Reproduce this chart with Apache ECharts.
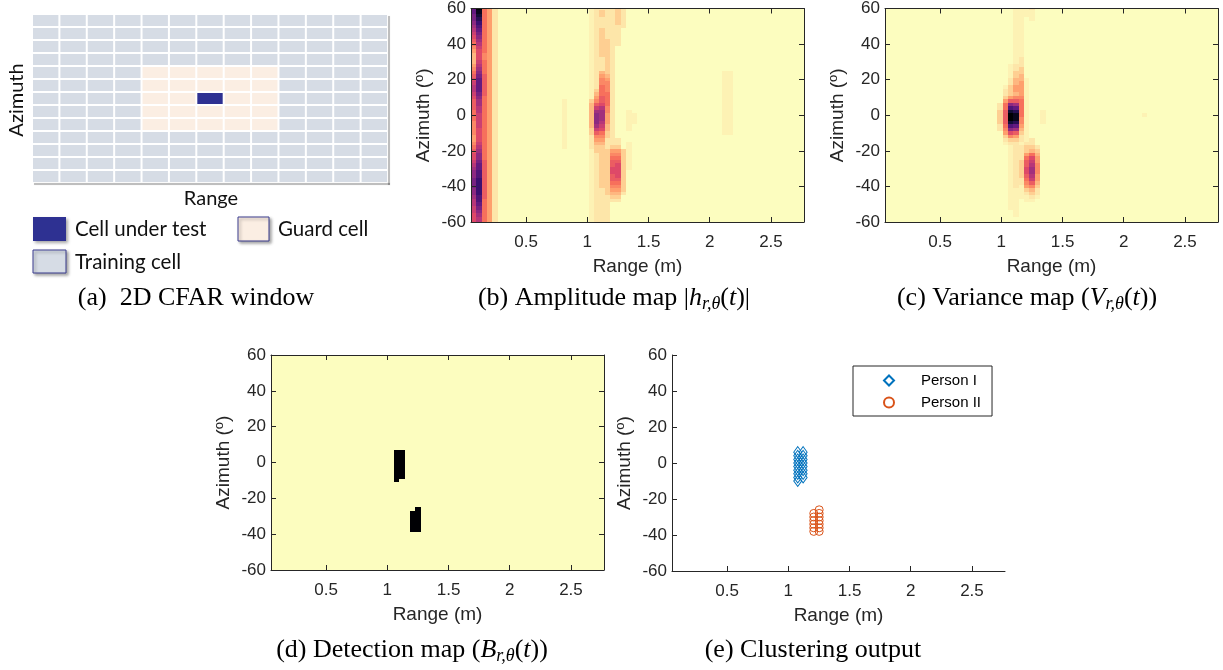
<!DOCTYPE html>
<html>
<head>
<meta charset="utf-8">
<script src="https://cdn.jsdelivr.net/npm/echarts@6.0.0/dist/echarts.min.js"></script>
<style>
  html, body { margin: 0; padding: 0; background: #fff; }
  #chart { width: 1223px; height: 670px; }
</style>
</head>
<body>
<div id="chart"></div>
<script>
// ---------------------------------------------------------------------------
// Axes
// ---------------------------------------------------------------------------
const rangeMin = 0.05;
const rangeMax = 2.77;
const rangeTicks = [0.5, 1, 1.5, 2, 2.5];
const azMin = -60;
const azMax = 60;
const azTickStep = 20;

// Radar map bins: range bins start at 0.05 m, azimuth rows are centred on 60, 58, ... -60 deg
const rangeStart = 0.05;
const rangeStep = 0.0437;
const rangeBins = 63;
const azFirst = 60;
const azStep = 2;

// Intensity levels per cell: '0'..'9','A'..'K' = 0..20, 'h' = 0.5 (faint).
// One string per azimuth row (60 -> -60); '|' only separates groups of bins:
// bins 0-5 | 6-15 | 16-21 | 22-28 | 29-32 | 33-48. Missing bins are 0.
const amplitudeRows = [
  'EK6410|0000000000|000000|h111121|0000',                    // 60
  'EJ6410|0000000000|000000|h121121|0000',                    // 58
  'DI6410|0000000000|000000|h121121|0000',                    // 56
  'DH6410|0000000000|000000|h111121|0000',                    // 54
  'CG6410|0000000000|000000|h111121|0000',                    // 52
  'BF6410|0000000000|000000|h111111|0000',                    // 50
  'AE6410|0000000000|000000|h121110|0000',                    // 48
  '9D6410|0000000000|000000|h121110|0000',                    // 46
  '8C6410|0000000000|000000|h121110|0000',                    // 44
  '7B6410|0000000000|000000|h122110|0000',                    // 42
  '6A6410|0000000000|000000|h122110|0000',                    // 40
  '596410|0000000000|000000|h122100|0000',                    // 38
  '486410|0000000000|000000|h122100|0000',                    // 36
  '385410|0000000000|000000|h122100|0000',                    // 34
  '385410|0000000000|000000|h112100|0000',                    // 32
  '396410|0000000000|000000|h112100|0000',                    // 30
  '4A6410|0000000000|000000|h112100|0000',                    // 28
  '5B6410|0000000000|000000|h112100|0000',                    // 26
  '6C6410|0000000000|000000|h132100|0000|00000000000000hh',   // 24
  '7D7410|0000000000|000000|h143100|0000|00000000000000hh',   // 22
  '8E7410|0000000000|000000|h154100|0000|00000000000000hh',   // 20
  '9E7410|0000000000|000000|h155100|0000|00000000000000hh',   // 18
  'AE7410|0000000000|000000|h165100|0000|00000000000000hh',   // 16
  'AE7410|0000000000|000000|h265100|0000|00000000000000hh',   // 14
  '9D7410|0000000000|000000|h366100|0000|00000000000000hh',   // 12
  '8C6410|0000000000|000000|h476100|0000|00000000000000hh',   // 10
  '7B6410|0000000000|0h0000|2576100|0000|00000000000000hh',   // 8
  '7B6410|0000000000|0h0000|3786100|0000|00000000000000hh',   // 6
  '7A6410|0000000000|0h0000|39A5100|0000|00000000000000hh',   // 4
  '6A6410|0000000000|0h0000|3BB5100|h000|00000000000000hh',   // 2
  '696410|0000000000|0h0000|3CB4100|hh00|00000000000000hh',   // 0
  '696410|0000000000|0h0000|3CB4100|hh00|00000000000000hh',   // -2
  '596410|0000000000|0h0000|3CA4100|hh00|00000000000000hh',   // -4
  '596410|0000000000|0h0000|3B93100|h000|00000000000000hh',   // -6
  '586410|0000000000|0h0000|2983100|h000|00000000000000hh',   // -8
  '586410|0000000000|0h0000|2762100|0000|00000000000000hh',   // -10
  '486410|0000000000|0h0000|1552100|0000',                    // -12
  '486410|0000000000|0h0000|1441110|0000',                    // -14
  '596410|0000000000|0h0000|1331110|h000',                    // -16
  '6A6410|0000000000|0h0000|1221220|h000',                    // -18
  '7B6410|0000000000|000000|h222442|h000',                    // -20
  '8C6410|0000000000|000000|h122552|h000',                    // -22
  '8C6410|0000000000|000000|h122662|h000',                    // -24
  '9D7410|0000000000|000000|h122772|h000',                    // -26
  'AE7410|0000000000|000000|h122782|h000',                    // -28
  'BE7410|0000000000|000000|h122882|h000',                    // -30
  'CF7410|0000000000|000000|h122882|0000',                    // -32
  'CF7410|0000000000|000000|h122782|0000',                    // -34
  'DG7410|0000000000|000000|h122772|0000',                    // -36
  'DG7410|0000000000|000000|h122662|0000',                    // -38
  'DG7410|0000000000|000000|h122552|0000',                    // -40
  'CG7410|0000000000|000000|h112442|0000',                    // -42
  'CG7410|0000000000|000000|h112331|0000',                    // -44
  'BF7410|0000000000|000000|h111220|0000',                    // -46
  'AF6410|0000000000|000000|h111110|0000',                    // -48
  'AE6410|0000000000|000000|h111000|0000',                    // -50
  '9D6410|0000000000|000000|h111000|0000',                    // -52
  '9C6410|0000000000|000000|h111000|0000',                    // -54
  '8B6410|0000000000|000000|h111000|0000',                    // -56
  '8A6410|0000000000|000000|h111000|0000',                    // -58
  '8A6410|0000000000|000000|h111000|0000'                     // -60
];

const varianceRows = [
  '000000|0000000000|000000|00hhh10|0000',                    // 60
  '000000|0000000000|000000|00hhhh0|0000',                    // 58
  '000000|0000000000|000000|00hhhh0|0000',                    // 56
  '000000|0000000000|000000|00hh0h0|0000',                    // 54
  '000000|0000000000|000000|00hh000|0000',                    // 52
  '000000|0000000000|000000|00hh000|0000',                    // 50
  '000000|0000000000|000000|00hh000|0000',                    // 48
  '000000|0000000000|000000|00hh000|0000',                    // 46
  '000000|0000000000|000000|00hh000|0000',                    // 44
  '000000|0000000000|000000|00hh000|0000',                    // 42
  '000000|0000000000|000000|00hh000|0000',                    // 40
  '000000|0000000000|000000|00hh000|0000',                    // 38
  '000000|0000000000|000000|00hh000|0000',                    // 36
  '000000|0000000000|000000|00hh000|0000',                    // 34
  '000000|0000000000|000000|00h1000|0000',                    // 32
  '000000|0000000000|000000|00h1000|0000',                    // 30
  '000000|0000000000|000000|0h11000|0000',                    // 28
  '000000|0000000000|000000|0h12000|0000',                    // 26
  '000000|0000000000|000000|0h22000|0000',                    // 24
  '000000|0000000000|000000|0h23000|0000',                    // 22
  '000000|0000000000|000000|0133h00|0000',                    // 20
  '000000|0000000000|000000|0134h00|0000',                    // 18
  '000000|0000000000|000000|h244h00|0000',                    // 16
  '000000|0000000000|000000|1244h00|0000',                    // 14
  '000000|0000000000|000000|1234h00|0000',                    // 12
  '000000|0000000000|000000|2455h00|0000',                    // 10
  '000000|0000000000|000000|4776h00|0000',                    // 8
  '000000|0000000000|000001|6CB6h00|0000',                    // 6
  '000000|0000000000|000001|6FE6h00|0000',                    // 4
  '000000|0000000000|000002|7IH6h00|h000',                    // 2
  '000000|0000000000|000002|7KJ6h00|h000|000000000000000h',   // 0
  '000000|0000000000|000002|7KJ5h00|h000',                    // -2
  '000000|0000000000|000002|7IH5h00|h000',                    // -4
  '000000|0000000000|000001|6FE4h00|0000',                    // -6
  '000000|0000000000|000001|5CB3h00|0000',                    // -8
  '000000|0000000000|000000|4872h00|0000',                    // -10
  '000000|0000000000|000000|2541h00|0000',                    // -12
  '000000|0000000000|000000|1221h10|0000',                    // -14
  '000000|0000000000|000000|h11h110|0000',                    // -16
  '000000|0000000000|000000|0h11221|0000',                    // -18
  '000000|0000000000|000000|0h11232|0000',                    // -20
  '000000|0000000000|000000|0h11463|0000',                    // -22
  '000000|0000000000|000000|0h11684|0000',                    // -24
  '000000|0000000000|000000|0h12794|0000',                    // -26
  '000000|0000000000|000000|0h127A5|0000',                    // -28
  '000000|0000000000|000000|0h128B5|0000',                    // -30
  '000000|0000000000|000000|0h128B5|0000',                    // -32
  '000000|0000000000|000000|0h127A4|0000',                    // -34
  '000000|0000000000|000000|0h11694|0000',                    // -36
  '000000|0000000000|000000|0h11573|0000',                    // -38
  '000000|0000000000|000000|0h1h452|0000',                    // -40
  '000000|0000000000|000000|0hhh231|0000',                    // -42
  '000000|0000000000|000000|0hhh121|0000',                    // -44
  '000000|0000000000|000000|0hhhh1h|0000',                    // -46
  '000000|0000000000|000000|0hh0hh0|0000',                    // -48
  '000000|0000000000|000000|0hh0000|0000',                    // -50
  '000000|0000000000|000000|0hh0000|0000',                    // -52
  '000000|0000000000|000000|00h0000|0000',                    // -54
  '000000|0000000000|000000|00h0000|0000',                    // -56
  '000000|0000000000|000000|0000000|0000',                    // -58
  '000000|0000000000|000000|0000000|0000'                     // -60
];

// Detected cells [range (m), azimuth (deg)], grouped by cluster
const clusterNames = ['Person I', 'Person II'];
const personI = [
  [1.077, 6], [1.077, 4], [1.077, 2], [1.077, 0], [1.077, -2], [1.077, -4], [1.077, -6], [1.077, -8], [1.077, -10],
  [1.121, 6], [1.121, 4], [1.121, 2], [1.121, 0], [1.121, -2], [1.121, -4], [1.121, -6], [1.121, -8]
];
const personII = [
  [1.208, -28], [1.208, -30], [1.208, -32], [1.208, -34], [1.208, -36], [1.208, -38],
  [1.252, -26], [1.252, -28], [1.252, -30], [1.252, -32], [1.252, -34], [1.252, -36], [1.252, -38]
];

// 2D CFAR window: T = training cell, G = guard cell, C = cell under test
const cfarRows = [
  'TTTTTTTTTTTTT',
  'TTTTTTTTTTTTT',
  'TTTTTTTTTTTTT',
  'TTTTTTTTTTTTT',
  'TTTTGGGGGTTTT',
  'TTTTGGGGGTTTT',
  'TTTTGGCGGTTTT',
  'TTTTGGGGGTTTT',
  'TTTTGGGGGTTTT',
  'TTTTTTTTTTTTT',
  'TTTTTTTTTTTTT',
  'TTTTTTTTTTTTT',
  'TTTTTTTTTTTTT'
];
const cfarLegendLabels = ['Cell under test', 'Guard cell', 'Training cell'];
const cfarAxisLabels = ['Azimuth', 'Range'];

const rangeTitle = 'Range (m)';
const azimuthTitle = '{n|Azimuth (}{s|o}{n|)}';
const captionTexts = [
  '{n|(a)  2D CFAR window}',
  '{n|(b) Amplitude map |}{i|h}{s|r,θ}{n|(}{i|t}{n|)|}',
  '{n|(c) Variance map (}{i|V}{s|r,θ}{n|(}{i|t}{n|))}',
  '{n|(d) Detection map (}{i|B}{s|r,θ}{n|(}{i|t}{n|))}',
  '{n|(e) Clustering output}'
];

// ---------------------------------------------------------------------------
// Styling
// ---------------------------------------------------------------------------
const SANS = '"Liberation Sans", Arial, sans-serif';
const SERIF = '"Liberation Serif", "Times New Roman", serif';
const CALIBRI_LIKE = 'Lato, "Open Sans", sans-serif';
const AXIS_COLOR = '#262626';
const MAGMA = ['#fcfdbf', '#fecf92', '#fe9f6d', '#f7705c', '#de4968', '#b73779',
               '#8c2981', '#641a80', '#3b0f70', '#140e36', '#000004'];
const CFAR_COLORS = { T: '#d6dce5', G: '#fbeee3', C: '#2e3192' };
const PERSON_COLORS = ['#0072bd', '#d95319'];

// ---------------------------------------------------------------------------
// Data preparation
// ---------------------------------------------------------------------------
const LEVEL_CHARS = '0123456789ABCDEFGHIJK';
function decodeLevel(ch) {
  return ch === 'h' ? 0.5 : LEVEL_CHARS.indexOf(ch);
}
function binCentre(c) {
  return +(rangeStart + (c + 0.5) * rangeStep).toFixed(4);
}
function mapCells(rows) {
  const cells = [];
  rows.forEach(function (row, r) {
    const s = row.replace(/[\s|]/g, '');
    const az = azFirst - r * azStep;
    for (let c = 0; c < rangeBins; c++) {
      cells.push([binCentre(c), az, c < s.length ? decodeLevel(s[c]) : 0]);
    }
  });
  return cells;
}
function detectionCells() {
  const hits = personI.concat(personII);
  const cells = [];
  for (let r = 0; r < amplitudeRows.length; r++) {
    const az = azFirst - r * azStep;
    for (let c = 0; c < rangeBins; c++) {
      const x = binCentre(c);
      const on = hits.some(function (p) {
        return Math.abs(p[0] - x) < rangeStep / 2 && p[1] === az;
      });
      cells.push([x, az, on ? 20 : 0]);
    }
  }
  return cells;
}
function cfarCells() {
  const cells = [];
  cfarRows.forEach(function (row, r) {
    for (let c = 0; c < row.length; c++) cells.push([c, r, row[c]]);
  });
  return cells;
}

// ---------------------------------------------------------------------------
// Renderers
// ---------------------------------------------------------------------------
function clipToGrid(x0, y0, x1, y1, cs) {
  const l = Math.max(x0, cs.x), r = Math.min(x1, cs.x + cs.width);
  const t = Math.max(y0, cs.y), b = Math.min(y1, cs.y + cs.height);
  if (r <= l || b <= t) return null;
  return { x: l, y: t, width: r - l, height: b - t };
}
function renderMapCell(params, api) {
  const x = api.value(0), y = api.value(1);
  const a = api.coord([x - rangeStep / 2, y + azStep / 2]);
  const b = api.coord([x + rangeStep / 2, y - azStep / 2]);
  const shape = clipToGrid(Math.round(a[0]), Math.round(a[1]), Math.round(b[0]), Math.round(b[1]), params.coordSys);
  if (!shape) return null;
  return { type: 'rect', shape: shape, style: { fill: api.visual('color') } };
}
function renderCfarCell(params, api) {
  const c = api.value(0), r = api.value(1);
  const kind = cfarRows[r][c];
  const a = api.coord([c, r]);
  const b = api.coord([c + 1, r + 1]);
  return {
    type: 'rect',
    shape: { x: a[0] + 1, y: a[1] + 1, width: b[0] - a[0] - 2, height: b[1] - a[1] - 2 },
    style: { fill: CFAR_COLORS[kind] }
  };
}

// ---------------------------------------------------------------------------
// Axis builders (MATLAB-like: inward ticks, dark box)
// ---------------------------------------------------------------------------
const lineStyle = { color: AXIS_COLOR, width: 1 };
const nameStyle = {
  color: AXIS_COLOR, fontSize: 19, fontFamily: SANS,
  rich: {
    n: { color: AXIS_COLOR, fontSize: 19, fontFamily: SANS, lineHeight: 21 },
    s: { color: AXIS_COLOR, fontSize: 13, fontFamily: SANS, lineHeight: 11, verticalAlign: 'top' }
  }
};
function rangeAxis(gridIndex, position, main) {
  return {
    type: 'value', gridIndex: gridIndex, position: position, z: 5,
    min: rangeMin, max: rangeMax,
    name: main ? rangeTitle : '', nameLocation: 'middle', nameGap: 35, nameTextStyle: nameStyle,
    axisLine: { show: true, onZero: false, lineStyle: lineStyle },
    axisTick: { show: true, inside: true, length: 5, customValues: rangeTicks, lineStyle: lineStyle },
    axisLabel: { show: main, customValues: rangeTicks, margin: 12, color: AXIS_COLOR, fontSize: 17, fontFamily: SANS },
    splitLine: { show: false }
  };
}
function azimuthAxis(gridIndex, position, main) {
  return {
    type: 'value', gridIndex: gridIndex, position: position, z: 5,
    min: azMin, max: azMax, interval: azTickStep,
    name: main ? azimuthTitle : '', nameLocation: 'middle', nameGap: 37, nameTextStyle: nameStyle,
    axisLine: { show: true, onZero: false, lineStyle: lineStyle },
    axisTick: { show: true, inside: true, length: 5, lineStyle: lineStyle },
    axisLabel: { show: main, margin: 5, color: AXIS_COLOR, fontSize: 17, fontFamily: SANS },
    splitLine: { show: false }
  };
}

// ---------------------------------------------------------------------------
// Annotation graphics for the CFAR sketch and the captions
// ---------------------------------------------------------------------------
const captionRich = {
  n: { fill: '#000', fontFamily: SERIF, fontSize: 26, lineHeight: 30 },
  i: { fill: '#000', fontFamily: SERIF, fontSize: 26, fontStyle: 'italic', lineHeight: 30 },
  s: { fill: '#000', fontFamily: SERIF, fontSize: 18, fontStyle: 'italic', lineHeight: 16, verticalAlign: 'bottom' }
};
const captionAnchors = [[196, 298], [614, 298], [1027, 298], [412, 650], [813, 650]];
const shadow = { shadowBlur: 3, shadowOffsetX: 2, shadowOffsetY: 2, shadowColor: 'rgba(0,0,0,0.35)' };

const graphics = [
  // soft shadow along the bottom / right edge of the CFAR grid
  { type: 'rect', z: 0, shape: { x: 34, y: 183, width: 356, height: 2 }, style: { fill: 'rgba(0,0,0,0.22)', shadowBlur: 2, shadowColor: 'rgba(0,0,0,0.3)' } },
  { type: 'rect', z: 0, shape: { x: 388, y: 16, width: 2, height: 169 }, style: { fill: 'rgba(0,0,0,0.22)', shadowBlur: 2, shadowColor: 'rgba(0,0,0,0.3)' } },
  { type: 'text', x: 17, y: 100, rotation: Math.PI / 2,
    style: { text: cfarAxisLabels[0], fill: '#111', font: '20px ' + CALIBRI_LIKE, align: 'center', verticalAlign: 'middle' } },
  { type: 'text', x: 211, y: 199,
    style: { text: cfarAxisLabels[1], fill: '#111', font: '20px ' + CALIBRI_LIKE, align: 'center', verticalAlign: 'middle' } },
  // legend swatches
  { type: 'rect', shape: { x: 33, y: 217, width: 33, height: 24 }, style: Object.assign({ fill: CFAR_COLORS.C }, shadow) },
  { type: 'rect', shape: { x: 238, y: 217, width: 31, height: 24 }, style: Object.assign({ fill: CFAR_COLORS.G, stroke: '#3a3d8f', lineWidth: 1 }, shadow) },
  { type: 'rect', shape: { x: 33, y: 250, width: 33, height: 23 }, style: Object.assign({ fill: CFAR_COLORS.T, stroke: '#3a3d8f', lineWidth: 1 }, shadow) },
  { type: 'text', x: 75, y: 229, style: { text: cfarLegendLabels[0], fill: '#111', font: '20.5px ' + CALIBRI_LIKE, verticalAlign: 'middle' } },
  { type: 'text', x: 278, y: 229, style: { text: cfarLegendLabels[1], fill: '#111', font: '20.5px ' + CALIBRI_LIKE, verticalAlign: 'middle' } },
  { type: 'text', x: 75, y: 262, style: { text: cfarLegendLabels[2], fill: '#111', font: '20.5px ' + CALIBRI_LIKE, verticalAlign: 'middle' } }
];
captionTexts.forEach(function (t, k) {
  graphics.push({
    type: 'text', x: captionAnchors[k][0], y: captionAnchors[k][1],
    style: { text: t, rich: captionRich, fill: '#000', font: '26px ' + SERIF, align: 'center', verticalAlign: 'middle' }
  });
});

// ---------------------------------------------------------------------------
// Chart
// ---------------------------------------------------------------------------
const chart = echarts.init(document.getElementById('chart'), null, { renderer: 'canvas', width: 1223, height: 670 });

function mapSeries(name, axisIndex, data) {
  return {
    type: 'custom', name: name, xAxisIndex: axisIndex, yAxisIndex: axisIndex,
    coordinateSystem: 'cartesian2d', renderItem: renderMapCell,
    dimensions: ['range', 'azimuth', 'level'], encode: { x: 0, y: 1 },
    data: data, silent: true, z: 2
  };
}
function clusterSeries(k, data, symbol, size) {
  return {
    type: 'scatter', name: clusterNames[k], xAxisIndex: 6, yAxisIndex: 6,
    data: data, symbol: symbol, symbolSize: size, silent: true, z: 6,
    itemStyle: { color: 'rgba(0,0,0,0)', borderColor: PERSON_COLORS[k], borderWidth: 1, opacity: 1 }
  };
}

chart.setOption({
  animation: false,
  backgroundColor: '#fff',
  tooltip: { show: false },
  grid: [
    { left: 471, top: 6, width: 333, height: 216 },
    { left: 885, top: 6, width: 333, height: 216 },
    { left: 271, top: 355, width: 333, height: 215 },
    { left: 672, top: 355, width: 333, height: 216 },
    { left: 32, top: 14, width: 356, height: 169 }
  ],
  xAxis: [
    rangeAxis(0, 'bottom', true), rangeAxis(0, 'top', false),
    rangeAxis(1, 'bottom', true), rangeAxis(1, 'top', false),
    rangeAxis(2, 'bottom', true), rangeAxis(2, 'top', false),
    rangeAxis(3, 'bottom', true),
    { type: 'value', gridIndex: 4, min: 0, max: cfarRows[0].length, show: false }
  ],
  yAxis: [
    azimuthAxis(0, 'left', true), azimuthAxis(0, 'right', false),
    azimuthAxis(1, 'left', true), azimuthAxis(1, 'right', false),
    azimuthAxis(2, 'left', true), azimuthAxis(2, 'right', false),
    azimuthAxis(3, 'left', true),
    { type: 'value', gridIndex: 4, min: 0, max: cfarRows.length, inverse: true, show: false }
  ],
  visualMap: [{
    type: 'continuous', show: false, seriesIndex: [0, 1, 2], dimension: 2,
    min: 0, max: 20, inRange: { color: MAGMA }
  }],
  legend: {
    data: [{ name: clusterNames[0], icon: 'diamond' }, { name: clusterNames[1], icon: 'circle' }],
    orient: 'vertical', left: 853, top: 366, padding: [7, 11, 6, 30],
    itemWidth: 10, itemHeight: 10, itemGap: 7,
    borderColor: AXIS_COLOR, borderWidth: 1, backgroundColor: '#fff',
    selectedMode: false,
    formatter: function (name) { return '{g| }' + name; },
    textStyle: { fontSize: 15, color: '#000', fontFamily: SANS, rich: { g: { width: 22 } } }
  },
  series: [
    mapSeries('amplitude', 0, mapCells(amplitudeRows)),
    mapSeries('variance', 2, mapCells(varianceRows)),
    mapSeries('detection', 4, detectionCells()),
    {
      type: 'custom', name: 'cfar', xAxisIndex: 7, yAxisIndex: 7, renderItem: renderCfarCell,
      encode: { x: 0, y: 1 }, data: cfarCells(), silent: true, z: 2
    },
    clusterSeries(0, personI, 'diamond', [8, 11]),
    clusterSeries(1, personII, 'circle', 8)
  ],
  graphic: { elements: graphics }
});
</script>
</body>
</html>
